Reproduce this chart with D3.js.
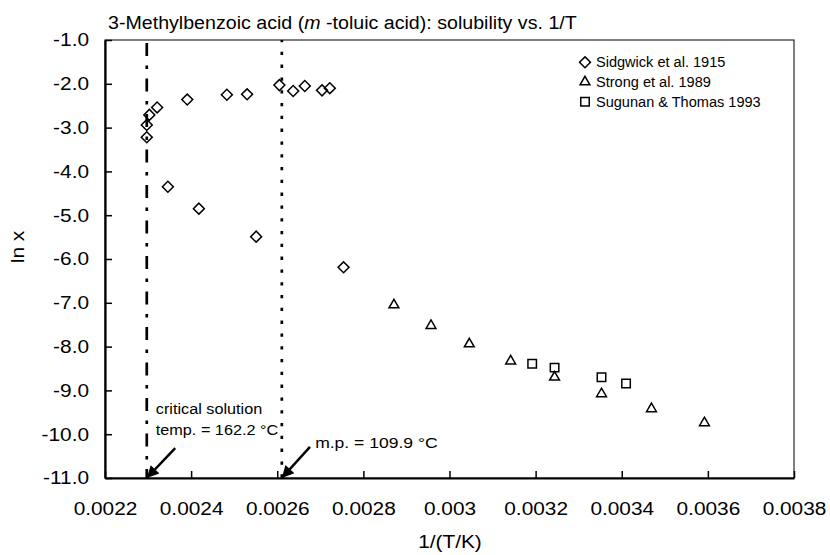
<!DOCTYPE html>
<html lang="en">
<head>
    <meta charset="utf-8">
    <title>3-Methylbenzoic acid solubility vs. 1/T</title>
    <script src="https://d3js.org/d3.v7.min.js"></script>
    <style>
        body { margin: 0; background: #fff; }
        text { font-family: "Liberation Sans", Arial, sans-serif; fill: #000; }
    </style>
</head>
<body>
<script type="text/javascript">

    // Sidgwick et al. 1915 (upper and lower branch)
    var sidgwickX = [0.002297, 0.002297, 0.002303, 0.002321, 0.002391, 0.002483, 0.002530,
                     0.002605, 0.002637, 0.002664, 0.002704, 0.002722,
                     0.002346, 0.002418, 0.002551, 0.002754];
    var sidgwickY = [-3.22, -2.94, -2.71, -2.54, -2.36, -2.25, -2.24,
                     -2.03, -2.165, -2.05, -2.15, -2.10,
                     -4.35, -4.85, -5.49, -6.19];

    // Strong et al. 1989
    var strongX = [0.002871, 0.002957, 0.003046, 0.003142, 0.003244, 0.003353, 0.003469, 0.003592];
    var strongY = [-7.05, -7.52, -7.94, -8.33, -8.70, -9.08, -9.42, -9.74];

    // Sugunan & Thomas 1993
    var sugunanX = [0.003192, 0.003244, 0.003353, 0.003410];
    var sugunanY = [-8.39, -8.48, -8.70, -8.84];

    var xTicks = [0.0022, 0.0024, 0.0026, 0.0028, 0.003, 0.0032, 0.0034, 0.0036, 0.0038];
    var yTicks = [-1, -2, -3, -4, -5, -6, -7, -8, -9, -10, -11];

    // critical solution temp. 162.2 C, m.p. 109.9 C
    var critX = 1 / (162.2 + 273.15);
    var mpX = 1 / (109.9 + 273.15);

    var w = 830, h = 555;
    var margin = {left: 105, right: 36, top: 40, bottom: 77};
    var stretch = 1.12;   // the original lettering is a bit wide

    var svg = d3.select("body").append("svg")
        .attr("width", w)
        .attr("height", h);

    var x = d3.scaleLinear().domain([0.0022, 0.0038]).range([margin.left, w - margin.right]);
    var y = d3.scaleLinear().domain([-11, -1]).range([h - margin.bottom, margin.top]);

    // widen text horizontally around its own anchor point
    function widen(sel, s) {
        sel.each(function () {
            var t = d3.select(this);
            var ax = +t.attr("x") || 0, ay = +t.attr("y") || 0;
            t.attr("transform", "translate(" + ax + "," + ay + ") scale(" + s + ",1) translate(" + (-ax) + "," + (-ay) + ")");
        });
    }

    // frame
    svg.append("rect")
        .attr("x", x(0.0022)).attr("y", y(-1))
        .attr("width", x(0.0038) - x(0.0022)).attr("height", y(-11) - y(-1))
        .attr("fill", "none").attr("stroke", "#000").attr("stroke-width", 1);

    // axes with inward ticks
    var xAxis = d3.axisBottom(x).tickValues(xTicks).tickSizeInner(-7).tickSizeOuter(0)
        .tickPadding(24).tickFormat(function (d) { return String(+d.toFixed(4)); });
    var gx = svg.append("g").attr("transform", "translate(0," + y(-11) + ")").call(xAxis);
    gx.select(".domain").attr("stroke-width", 2.2);
    gx.selectAll(".tick line").attr("stroke-width", 1.5);
    gx.selectAll(".tick text").attr("font-size", 18.6).attr("font-family", "Liberation Sans, Arial, sans-serif")
        .call(widen, stretch);

    var yAxis = d3.axisLeft(y).tickValues(yTicks).tickSizeInner(-7).tickSizeOuter(0)
        .tickPadding(16).tickFormat(function (d) { return d.toFixed(1); });
    var gy = svg.append("g").attr("transform", "translate(" + x(0.0022) + ",0)").call(yAxis);
    gy.select(".domain").attr("stroke-width", 2.2);
    gy.selectAll(".tick line").attr("stroke-width", 1.5);
    gy.selectAll(".tick text").attr("font-size", 18.6).attr("font-family", "Liberation Sans, Arial, sans-serif")
        .call(widen, stretch);

    // vertical reference lines
    svg.append("line")
        .attr("x1", x(critX)).attr("x2", x(critX))
        .attr("y1", y(-1)).attr("y2", y(-11))
        .attr("stroke", "#000").attr("stroke-width", 2.7)
        .attr("stroke-dasharray", "13,9.5,3.5,9.5").attr("stroke-dashoffset", -3);

    svg.append("line")
        .attr("x1", x(mpX)).attr("x2", x(mpX))
        .attr("y1", y(-1)).attr("y2", y(-11))
        .attr("stroke", "#000").attr("stroke-width", 2.7)
        .attr("stroke-dasharray", "3.3,9.5").attr("stroke-dashoffset", 1);

    // arrows
    var defs = svg.append("defs");
    defs.append("marker")
        .attr("id", "head")
        .attr("viewBox", "0 0 10 10")
        .attr("refX", 10).attr("refY", 5)
        .attr("markerUnits", "userSpaceOnUse")
        .attr("markerWidth", 16).attr("markerHeight", 12)
        .attr("orient", "auto")
        .append("path").attr("d", "M0,0L10,5L0,10Z").attr("fill", "#000");

    var arrows = [
        {x1: 0.002363, y1: -10.32, x2: critX, y2: -11},
        {x1: 0.002676, y1: -10.29, x2: mpX, y2: -11}
    ];
    svg.selectAll(".arrow").data(arrows).enter().append("line")
        .attr("class", "arrow")
        .attr("x1", function (d) { return x(d.x1); })
        .attr("y1", function (d) { return y(d.y1); })
        .attr("x2", function (d) { return x(d.x2); })
        .attr("y2", function (d) { return y(d.y2); })
        .attr("stroke", "#000").attr("stroke-width", 2.5)
        .attr("marker-end", "url(#head)");

    // annotations
    var notes = svg.append("g");
    notes.append("text").attr("x", x(0.002318)).attr("y", y(-9.43) + 5)
        .attr("font-size", 14.5).text("critical solution");
    notes.append("text").attr("x", x(0.002318)).attr("y", y(-9.91) + 5)
        .attr("font-size", 14.5).text("temp. = 162.2 °C");
    notes.selectAll("text").call(widen, stretch);
    notes.append("text").attr("x", x(0.002688)).attr("y", y(-10.21) + 5)
        .attr("font-size", 15).text("m.p. = 109.9 °C")
        .call(widen, 1.17);

    // markers
    var diamond = d3.symbol().type(d3.symbolSquare).size(60);
    var triangle = d3.symbol().type(d3.symbolTriangle).size(42);
    var square = d3.symbol().type(d3.symbolSquare).size(72);

    svg.selectAll(".sidgwick").data(d3.range(sidgwickX.length)).enter().append("path")
        .attr("class", "sidgwick")
        .attr("d", diamond)
        .attr("transform", function (i) { return "translate(" + x(sidgwickX[i]) + "," + y(sidgwickY[i]) + ") rotate(45)"; })
        .attr("fill", "none").attr("stroke", "#000").attr("stroke-width", 1.5);

    svg.selectAll(".strong").data(d3.range(strongX.length)).enter().append("path")
        .attr("class", "strong")
        .attr("d", triangle)
        .attr("transform", function (i) { return "translate(" + x(strongX[i]) + "," + y(strongY[i]) + ")"; })
        .attr("fill", "none").attr("stroke", "#000").attr("stroke-width", 1.5);

    svg.selectAll(".sugunan").data(d3.range(sugunanX.length)).enter().append("path")
        .attr("class", "sugunan")
        .attr("d", square)
        .attr("transform", function (i) { return "translate(" + x(sugunanX[i]) + "," + y(sugunanY[i]) + ")"; })
        .attr("fill", "none").attr("stroke", "#000").attr("stroke-width", 1.5);

    // legend
    var legend = [
        {label: "Sidgwick et al. 1915", sym: diamond, rot: 45},
        {label: "Strong et al. 1989", sym: triangle, rot: 0},
        {label: "Sugunan & Thomas 1993", sym: square, rot: 0}
    ];
    var lg = svg.selectAll(".legend").data(legend).enter().append("g")
        .attr("class", "legend")
        .attr("transform", function (d, i) { return "translate(585," + (62.3 + i * 19.7) + ")"; });
    lg.append("path")
        .attr("d", function (d) { return d.sym(); })
        .attr("transform", function (d) { return "rotate(" + d.rot + ")"; })
        .attr("fill", "none").attr("stroke", "#000").attr("stroke-width", 1.5);
    lg.append("text").attr("x", 11).attr("y", 5)
        .attr("font-size", 14).text(function (d) { return d.label; })
        .call(widen, 1.04);

    // title and axis labels
    var title = svg.append("text").attr("x", 108).attr("y", 29).attr("font-size", 18.6);
    title.append("tspan").text("3-Methylbenzoic acid (");
    title.append("tspan").attr("font-style", "italic").text("m");
    title.append("tspan").text(" -toluic acid): solubility vs. 1/T");
    title.call(widen, 1.055);

    svg.append("text")
        .attr("x", 450).attr("y", 548)
        .attr("text-anchor", "middle").attr("font-size", 18.6).text("1/(T/K)")
        .call(widen, stretch);

    svg.append("text")
        .attr("transform", "translate(24,247) rotate(-90) scale(" + stretch + ",1)")
        .attr("text-anchor", "middle").attr("font-size", 18.6).text("ln x");

</script>
</body>
</html>
